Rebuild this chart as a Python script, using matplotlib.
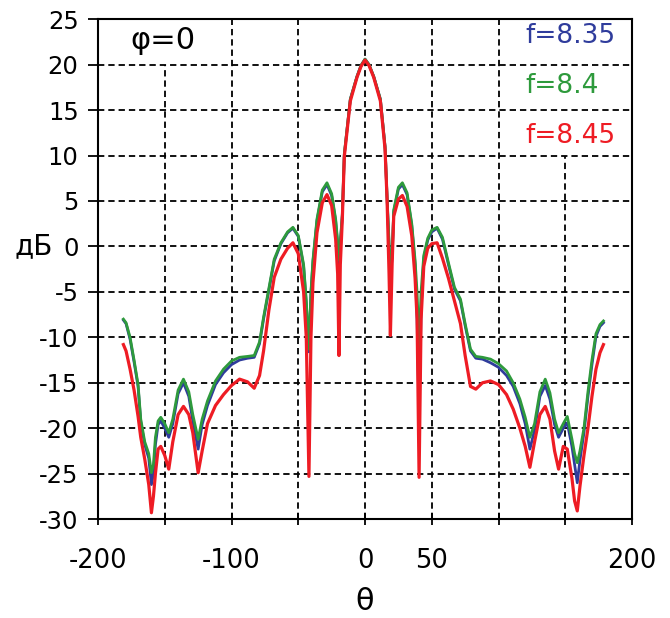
import numpy as np
import matplotlib
matplotlib.use("Agg")
import matplotlib.pyplot as plt

# ─────────────────────────────────────────────────────────────────────────────
# Данные: угол θ и уровни в дБ для трёх частот
# ─────────────────────────────────────────────────────────────────────────────
theta = [
    -181, -179, -176, -173, -170, -168, -165, -162, -160, -158.5,
    -157, -155, -153, -150, -147, -144, -140, -136, -132, -129,
    -125, -122, -118, -112, -106, -100, -94, -88, -83, -79,
    -76, -72, -68, -63, -58, -54, -50, -46, -44, -42,
    -40.5, -39, -36, -32, -28.5, -25, -22, -20.5, -19.5, -18.5,
    -17, -15.5, -11, -6, -3, 0, 3, 6.5, 11.5, 15,
    16.5, 18, 19, 20.3, 21.5, 25, 28, 31.5, 35, 37.5,
    39, 40.5, 42, 44, 47, 50, 54, 58, 62.5, 67,
    71.5, 75, 79, 83, 88, 94, 100, 106, 111, 116,
    120, 123.5, 127, 131, 135, 138.5, 142, 145, 148.5, 151.5,
    155, 157, 159, 161, 164, 167, 170, 173, 176, 178.6,
]

db_835 = [
    -8.1, -8.5, -10.2, -12.7, -15.4, -19.3, -21.8, -23.3, -26.2, -25.0,
    -21.8, -19.6, -19.2, -20.0, -21.0, -19.5, -16.2, -15.0, -16.5, -19.2,
    -22.3, -19.6, -17.5, -15.2, -13.9, -13.0, -12.5, -12.3, -12.2, -10.7,
    -8.0, -4.8, -1.6, 0.3, 1.5, 2.0, 1.1, -2.2, -6.3, -11.6,
    -5.2, -1.7, 2.8, 6.0, 6.8, 5.6, 2.8, 0.2, -2.0, 0.3,
    3.4, 10.1, 16.2, 18.7, 19.9, 20.6, 20.0, 18.7, 16.2, 11.0,
    5.4, 0.0, -3.0, -1.3, 3.8, 6.3, 6.8, 5.7, 2.3, -2.0,
    -8.0, -19.0, -7.0, -1.3, 0.7, 1.6, 2.0, 0.8, -2.0, -4.7,
    -6.0, -8.7, -11.5, -12.3, -12.4, -12.8, -13.3, -14.2, -15.4, -17.3,
    -19.5, -22.3, -20.2, -16.5, -15.3, -16.8, -19.6, -21.0, -20.0, -19.4,
    -22.0, -24.0, -26.0, -23.5, -20.5, -16.5, -13.0, -9.9, -8.8, -8.4,
]

db_840 = [
    -8.0, -8.4, -10.0, -12.5, -15.2, -19.0, -21.5, -22.8, -24.9, -24.0,
    -21.0, -19.2, -18.8, -19.5, -20.5, -19.0, -15.8, -14.6, -16.0, -18.5,
    -21.2, -19.0, -17.0, -14.8, -13.5, -12.6, -12.2, -12.1, -12.0, -10.5,
    -7.8, -4.6, -1.4, 0.4, 1.6, 2.1, 1.2, -2.0, -6.0, -11.3,
    -5.0, -1.5, 3.0, 6.2, 7.0, 5.8, 3.0, 0.5, -1.5, 0.5,
    3.5, 10.2, 16.2, 18.7, 19.9, 20.6, 20.0, 18.7, 16.2, 11.0,
    5.5, 0.5, -2.5, -1.0, 4.0, 6.5, 7.0, 5.9, 2.5, -1.5,
    -5.1, -11.0, -5.0, -1.0, 0.9, 1.8, 2.1, 1.0, -1.8, -4.5,
    -5.8, -8.5, -11.3, -12.1, -12.2, -12.4, -12.9, -13.7, -15.0, -16.8,
    -18.8, -21.0, -19.5, -16.0, -14.6, -16.1, -19.0, -20.5, -19.5, -18.7,
    -21.2, -22.8, -23.8, -22.5, -20.0, -16.0, -12.5, -9.6, -8.6, -8.2,
]

db_845 = [
    -10.8, -11.5, -13.5, -15.8, -18.7, -21.0, -23.4, -26.2, -29.3, -27.5,
    -25.0, -22.3, -22.0, -23.0, -24.5, -21.5, -18.5, -17.6, -18.5, -20.5,
    -24.9, -22.5, -19.5, -17.5, -16.3, -15.3, -14.6, -14.9, -15.6, -14.2,
    -11.5, -7.0, -3.4, -1.4, -0.2, 0.4, -0.8, -5.0, -10.0, -25.3,
    -10.0, -4.0, 1.5, 4.8, 5.7, 4.5, 0.8, -3.0, -12.0, -2.0,
    3.0, 9.9, 16.0, 18.6, 19.8, 20.5, 19.9, 18.6, 16.0, 10.7,
    5.2, -3.0, -9.8, -2.0, 3.3, 5.2, 5.6, 4.4, 1.2, -3.5,
    -8.0, -25.4, -8.0, -2.2, -0.2, 0.3, 0.4, -1.3, -3.5, -6.0,
    -8.5, -12.0, -15.4, -15.7, -15.0, -14.8, -15.2, -16.3, -17.9, -20.0,
    -22.0, -24.3, -21.5, -18.5, -17.6, -19.0, -22.5, -24.5, -22.0, -22.3,
    -25.5, -28.0, -29.1, -26.4, -23.0, -20.0, -16.5, -13.5, -11.7, -10.8,
]

series_labels = ["f=8.35", "f=8.4", "f=8.45"]
series_colors = ["#2f3c9c", "#2e9a3c", "#ee1c24"]

x_ticks = [-200, -150, -100, -50, 0, 50, 100, 150, 200]
x_ticklabels = ["-200", "", "-100", "", "0", "50", "", "", "200"]
y_ticks = list(range(-30, 26, 5))

# ─────────────────────────────────────────────────────────────────────────────
# Рисунок
# ─────────────────────────────────────────────────────────────────────────────
plt.rcParams["font.family"] = "DejaVu Sans"
plt.rcParams["axes.unicode_minus"] = False   # обычный дефис, как в оригинале

fig = plt.figure(figsize=(6.7, 6.18), dpi=100)
ax = fig.add_axes([0.1463, 0.160, 0.797, 0.809])

ax.set_xlim(-200, 200)
ax.set_ylim(-30, 25)

# сетка: горизонтальные линии целиком, вертикальные обрезаны под надписями
grid_kw = dict(color="black", lw=1.3, linestyle=(0, (3.5, 2.2)), zorder=1)
ax.set_yticks(y_ticks)
for yv in y_ticks[1:-1]:
    ax.axhline(yv, **grid_kw)
for xv in x_ticks[1:-1]:
    top = 25
    if xv == -150:
        top = 20
    elif xv == 150:
        top = 10
    ax.plot([xv, xv], [-30, top], **grid_kw)

ax.plot(theta, db_835, color=series_colors[0], lw=2.0, zorder=3)
ax.plot(theta, db_840, color=series_colors[1], lw=2.0, zorder=4)
ax.plot(theta, db_845, color=series_colors[2], lw=2.3, zorder=5)

# подписи частот (вместо легенды)
for i, (lab, col) in enumerate(zip(series_labels, series_colors)):
    ax.text(120, 23.1 - 5.5 * i, lab, color=col, fontsize=19,
            ha="left", va="center", zorder=6)

ax.text(-176, 22.7, "φ=0", fontsize=22, ha="left", va="center", zorder=6)

ax.set_xticks(x_ticks)
ax.set_xticklabels(x_ticklabels)
ax.tick_params(axis="x", direction="inout", length=9, width=1.3,
               labelsize=18.5, pad=16)
ax.tick_params(axis="y", direction="out", length=7, width=1.3,
               labelsize=17.5, pad=7)

for sp in ax.spines.values():
    sp.set_linewidth(1.5)

ax.set_xlabel("θ", fontsize=22, labelpad=10)
ax.set_ylabel("дБ", fontsize=20, rotation=0, ha="right", va="center")
ax.yaxis.set_label_coords(-0.084, 0.546)

fig.savefig("out.png", dpi=100)
plt.close(fig)
